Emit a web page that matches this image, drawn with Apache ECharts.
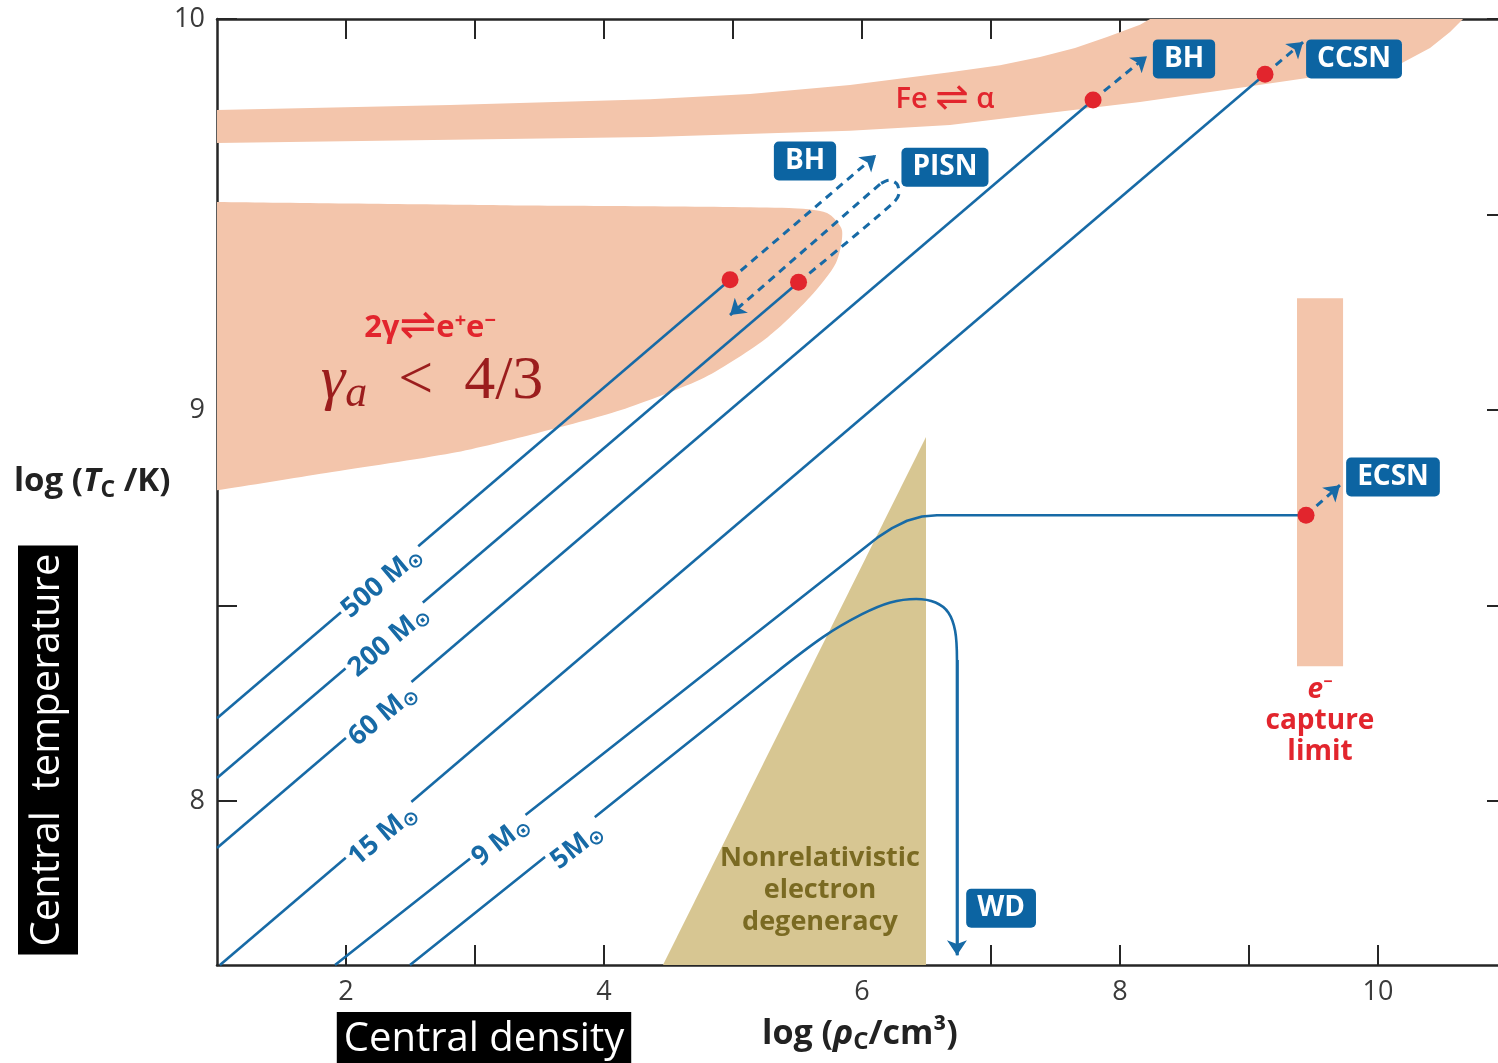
<!DOCTYPE html>
<html>
<head>
<meta charset="utf-8">
<script src="https://cdn.jsdelivr.net/npm/echarts@6/dist/echarts.min.js"></script>
<style>
  html, body { margin: 0; padding: 0; background: #fff; }
  #chart { width: 1498px; height: 1063px; }
</style>
</head>
<body>
<div id="chart"></div>
<script>
// Evolution of stellar cores in the log(rho_c) - log(T_c) plane.

// ---- axis ticks and tick labels ----
const xTicks = [2, 3, 4, 5, 6, 7, 8, 9, 10];
const xTickLabels = [2, 4, 6, 8, 10];
const yTicks = [8, 8.5, 9, 9.5, 10];
const yTickLabels = [8, 9, 10];

// ---- shaded regions, [log rho_c, log T_c] ----
const feAlphaBand = [
  [1.000, 9.767], [2.806, 9.780], [4.357, 9.795], [5.132, 9.808], [5.907, 9.831],
  [6.682, 9.864], [7.070, 9.882], [7.380, 9.903], [7.651, 9.926], [7.899, 9.954],
  [8.155, 9.985], [8.233, 10.000],
  [10.659, 10.000], [10.558, 9.967], [10.403, 9.926], [10.171, 9.885], [9.450, 9.849],
  [8.930, 9.824], [8.155, 9.788], [7.380, 9.757], [6.682, 9.729], [5.907, 9.714],
  [4.357, 9.698], [1.000, 9.683]
];
const pairInstability = [
  [0.600, 9.534], [1.000, 9.532], [3.194, 9.524], [5.434, 9.517], [5.729, 9.504],
  [5.845, 9.460], [5.798, 9.376], [5.597, 9.289], [5.271, 9.187], [4.783, 9.084],
  [4.132, 9.000], [3.481, 8.941], [2.822, 8.890], [1.845, 8.839], [1.000, 8.795],
  [0.600, 8.780]
];
const captureLimit = [[9.372, 9.286], [9.729, 9.286], [9.729, 8.345], [9.372, 8.345]];
const degeneracy = [[4.457, 7.581], [6.496, 8.931], [6.496, 7.581]];

// ---- evolutionary tracks of the core ----
const track500 = [[1.000, 8.212], [4.977, 9.333]];
const track200 = [[1.000, 8.059], [5.508, 9.327]];
const track60 = [[1.000, 7.880], [7.791, 9.793]];
const track15 = [[1.023, 7.581], [9.124, 9.859]];
const track9 = [
  [1.915, 7.581], [6.116, 8.673], [6.233, 8.698], [6.349, 8.717], [6.465, 8.728],
  [6.581, 8.731], [9.442, 8.731]
];
const track5 = [
  [2.496, 7.581], [5.300, 8.320], [5.700, 8.420], [6.000, 8.478], [6.220, 8.508],
  [6.420, 8.517], [6.570, 8.508], [6.670, 8.482], [6.722, 8.435], [6.736, 8.361],
  [6.736, 7.606]
];

// ---- final (dashed) fates after instability ----
const collapse500 = [[4.977, 9.333], [6.109, 9.652]];
const pisn200 = [
  [5.508, 9.327], [6.240, 9.529], [6.287, 9.555], [6.271, 9.578], [6.209, 9.588],
  [6.140, 9.578], [4.977, 9.243]
];
const collapse60 = [[7.791, 9.793], [8.209, 9.905]];
const ccsn15 = [[9.124, 9.859], [9.419, 9.941]];
const ecsn9 = [[9.442, 8.731], [9.705, 8.808]];

// ---- text annotations: [text, log rho_c, log T_c] ----
const massLabels = [
  ['500 M', 2.279, 8.560], ['200 M', 2.333, 8.409], ['60 M', 2.287, 8.220],
  ['15 M', 2.287, 7.913], ['9 M', 3.202, 7.898], ['5M', 3.791, 7.885]
];
const fateLabels = [
  ['BH', 5.558, 9.637], ['PISN', 6.643, 9.621], ['BH', 8.496, 9.898],
  ['CCSN', 9.814, 9.898], ['ECSN', 10.116, 8.829], ['WD', 7.078, 7.726]
];

const SANS = '"Open Sans", "DejaVu Sans", sans-serif';
const SERIF = '"Liberation Serif", "DejaVu Serif", serif';
const BLUE = '#176aa6';
const BOX = '#0c64a2';
const SALMON = '#f3c5ab';
const TAN = '#d7c692';
const RED = '#e2252d';
const OLIVE = '#7a6a22';
const DARKRED = '#9b1d1d';
const AXIS = '#262626';

function polygon(name, pts, color, smooth) {
  return {
    type: 'custom', name: name, z: 1, silent: true, clip: true,
    data: pts, encode: { x: 0, y: 1 },
    renderItem: function (params, api) {
      if (params.dataIndex !== 0) return null;
      return {
        type: 'polygon',
        shape: { points: pts.map(function (p) { return api.coord(p); }), smooth: smooth || 0 },
        style: { fill: color }
      };
    }
  };
}

function track(name, pts, dashed, smooth) {
  return {
    type: 'line', name: name, z: 3, silent: true, clip: true,
    data: pts, showSymbol: false, symbol: 'none', smooth: smooth || false,
    lineStyle: { color: BLUE, width: dashed ? 3 : 2.6, type: dashed ? [8, 6] : 'solid', opacity: 1 }
  };
}

const dashedFates = [collapse500, pisn200, collapse60, ccsn15, ecsn9];

const series = [
  polygon('Fe-alpha', feAlphaBand, SALMON, 0),
  polygon('pair', pairInstability, SALMON, 0.25),
  polygon('capture', captureLimit, SALMON, 0),
  polygon('degeneracy', degeneracy, TAN, 0),
  track('500', track500, false),
  track('200', track200, false),
  track('60', track60, false),
  track('15', track15, false),
  track('9', track9, false),
  track('5', track5, false, 0.35)
];
// multi-segment dashed paths: all but the last leg, which carries the arrowhead
dashedFates.forEach(function (p, i) {
  if (p.length > 2) series.push(track('fate' + i, p.slice(0, -1), true, 0.3));
});
series.push({
  type: 'lines', coordinateSystem: 'cartesian2d', z: 3, silent: true,
  symbol: ['none', 'arrow'], symbolSize: 15,
  lineStyle: { color: BLUE, width: 3, type: [8, 6], opacity: 1 },
  data: dashedFates.map(function (p) { return { coords: p.slice(-2) }; })
});
series.push({
  type: 'lines', coordinateSystem: 'cartesian2d', z: 3, silent: true,
  symbol: ['none', 'arrow'], symbolSize: 15,
  lineStyle: { color: BLUE, width: 2.6, opacity: 1 },
  data: [{ coords: track5.slice(-2) }]
});
// red dots where the cores become unstable
series.push({
  type: 'scatter', z: 4, silent: true, symbol: 'circle', symbolSize: 17,
  itemStyle: { color: RED, opacity: 1 },
  data: [track500, track200, track60, track15, track9].map(function (t) { return t[t.length - 1]; })
});
const hidden = { color: 'transparent', opacity: 1 };
// mass labels along the tracks
series.push({
  type: 'scatter', z: 5, silent: true, symbolSize: 1, itemStyle: hidden,
  data: massLabels.map(function (m, i) {
    return {
      value: [m[1], m[2]],
      label: {
        show: true, position: 'inside', rotate: i < 4 ? 40 : 38,
        formatter: '{m|' + m[0] + '}{s|⊙}',
        backgroundColor: '#fff', padding: [0, 3],
        rich: {
          m: { fontFamily: SANS, fontWeight: 'bold', fontSize: 27, color: BLUE, lineHeight: 31 },
          s: { fontFamily: '"DejaVu Sans", sans-serif', fontWeight: 'bold', fontSize: 20, color: BLUE,
               lineHeight: 33, verticalAlign: 'bottom' }
        }
      }
    };
  })
});
// boxed end states
series.push({
  type: 'scatter', z: 6, silent: true, symbolSize: 1, itemStyle: hidden,
  data: fateLabels.map(function (f) {
    return {
      value: [f[1], f[2]],
      label: {
        show: true, position: 'inside', formatter: f[0],
        fontFamily: SANS, fontWeight: 'bold', fontSize: 28, color: '#fff',
        backgroundColor: BOX, borderRadius: 5, padding: [4, 11, 4, 11], lineHeight: 31
      }
    };
  })
});
// physical regime annotations
series.push({
  type: 'scatter', z: 6, silent: true, symbolSize: 1, itemStyle: hidden,
  data: [
    {
      value: [6.643, 9.793],
      label: {
        show: true, position: 'inside', formatter: '{a|Fe }{b|⇌}{a| α}',
        rich: {
          a: { fontFamily: SANS, fontWeight: 600, fontSize: 29, color: RED },
          b: { fontFamily: '"DejaVu Sans", sans-serif', fontSize: 40, color: RED }
        }
      }
    },
    {
      value: [2.651, 9.210],
      label: {
        show: true, position: 'inside', formatter: '{a|2γ}{b|⇌}{a|e}{p|+}{a|e}{p|−}',
        rich: {
          a: { fontFamily: SANS, fontWeight: 'bold', fontSize: 31, color: RED, lineHeight: 34 },
          b: { fontFamily: '"DejaVu Sans", sans-serif', fontSize: 44, color: RED, lineHeight: 34 },
          p: { fontFamily: SANS, fontWeight: 'bold', fontSize: 20, color: RED, lineHeight: 34, verticalAlign: 'top' }
        }
      }
    },
    {
      value: [2.667, 9.072],
      label: {
        show: true, position: 'inside', formatter: '{g|γ}{s|a}{r|  <  4/3}',
        rich: {
          g: { fontFamily: SERIF, fontStyle: 'italic', fontSize: 62, color: DARKRED, lineHeight: 70 },
          s: { fontFamily: SERIF, fontStyle: 'italic', fontSize: 44, color: DARKRED, lineHeight: 70, verticalAlign: 'bottom' },
          r: { fontFamily: SERIF, fontSize: 62, color: DARKRED, lineHeight: 70 }
        }
      }
    },
    {
      value: [9.550, 8.205],
      label: {
        show: true, position: 'inside', align: 'center',
        formatter: '{e|e}{p|−}\n{t|capture}\n{t|limit}',
        rich: {
          e: { fontFamily: SANS, fontWeight: 'bold', fontStyle: 'italic', fontSize: 28, color: RED, lineHeight: 31, align: 'center' },
          p: { fontFamily: SANS, fontWeight: 'bold', fontSize: 16, color: RED, lineHeight: 31, verticalAlign: 'top' },
          t: { fontFamily: SANS, fontWeight: 'bold', fontSize: 28, color: RED, lineHeight: 31, align: 'center' }
        }
      }
    },
    {
      value: [5.674, 7.772],
      label: {
        show: true, position: 'inside', align: 'center',
        formatter: 'Nonrelativistic\nelectron\ndegeneracy',
        fontFamily: SANS, fontWeight: 'bold', fontSize: 27, color: OLIVE, lineHeight: 32
      }
    }
  ]
});

function ticks(values, length) {
  return { show: true, inside: true, length: length || 20, customValues: values,
           lineStyle: { color: AXIS, width: 2 } };
}
const axisLine = { show: true, onZero: false, lineStyle: { color: AXIS, width: 2.5 } };
const labelFont = { fontFamily: SANS, fontSize: 27, color: '#3a3a3a' };

const option = {
  animation: false,
  grid: { left: 217, top: 19, right: 0, bottom: 98, containLabel: false },
  xAxis: [
    {
      type: 'value', position: 'bottom', min: 1, max: 10.93, interval: 1,
      axisLine: axisLine, axisTick: ticks(xTicks), splitLine: { show: false },
      axisLabel: Object.assign({ margin: 14, customValues: xTickLabels }, labelFont)
    },
    {
      type: 'value', position: 'top', min: 1, max: 10.93, interval: 1,
      axisLine: axisLine, axisTick: ticks(xTicks), splitLine: { show: false }, axisLabel: { show: false }
    }
  ],
  yAxis: [
    {
      type: 'value', position: 'left', min: 7.581, max: 10, minInterval: 0.5, maxInterval: 0.5,
      axisLine: axisLine, axisTick: ticks(yTicks), splitLine: { show: false },
      axisLabel: Object.assign({ margin: 12, customValues: yTickLabels }, labelFont)
    },
    {
      type: 'value', position: 'right', min: 7.581, max: 10, minInterval: 0.5, maxInterval: 0.5,
      axisLine: { show: false }, axisTick: ticks(yTicks, 11), splitLine: { show: false }, axisLabel: { show: false }
    }
  ],
  graphic: [
    {
      type: 'text', left: 14, top: 465, silent: true,
      style: {
        text: '{b|log (}{i|T}{c|C}{b| /K)}', fill: '#222',
        rich: {
          b: { fontFamily: SANS, fontWeight: 'bold', fontSize: 33, fill: '#222', lineHeight: 40 },
          i: { fontFamily: SANS, fontWeight: 'bold', fontStyle: 'italic', fontSize: 33, fill: '#222', lineHeight: 40 },
          c: { fontFamily: SANS, fontWeight: 'bold', fontSize: 23, fill: '#222', lineHeight: 40, verticalAlign: 'bottom' }
        }
      }
    },
    {
      type: 'text', left: 762, top: 1017, silent: true,
      style: {
        text: '{b|log (}{i|ρ}{c|C}{b|/cm³)}', fill: '#222',
        rich: {
          b: { fontFamily: SANS, fontWeight: 'bold', fontSize: 34, fill: '#222', lineHeight: 40 },
          i: { fontFamily: SANS, fontWeight: 'bold', fontStyle: 'italic', fontSize: 34, fill: '#222', lineHeight: 40 },
          c: { fontFamily: SANS, fontWeight: 'bold', fontSize: 24, fill: '#222', lineHeight: 40, verticalAlign: 'bottom' }
        }
      }
    },
    {
      type: 'text', x: 48, y: 750, rotation: Math.PI / 2, silent: true,
      style: {
        text: 'Central  temperature', fill: '#fff', fontFamily: SANS, fontSize: 40,
        align: 'center', verticalAlign: 'middle', lineHeight: 60,
        backgroundColor: '#000', padding: [0, 8]
      }
    },
    {
      type: 'text', x: 484, y: 1012, silent: true,
      style: {
        text: 'Central density', fill: '#fff', fontFamily: SANS, fontSize: 40,
        align: 'center', verticalAlign: 'top', lineHeight: 56,
        backgroundColor: '#000', padding: [0, 7]
      }
    }
  ],
  series: series
};

const chart = echarts.init(document.getElementById('chart'), null, { renderer: 'canvas' });
chart.setOption(option);
</script>
</body>
</html>
